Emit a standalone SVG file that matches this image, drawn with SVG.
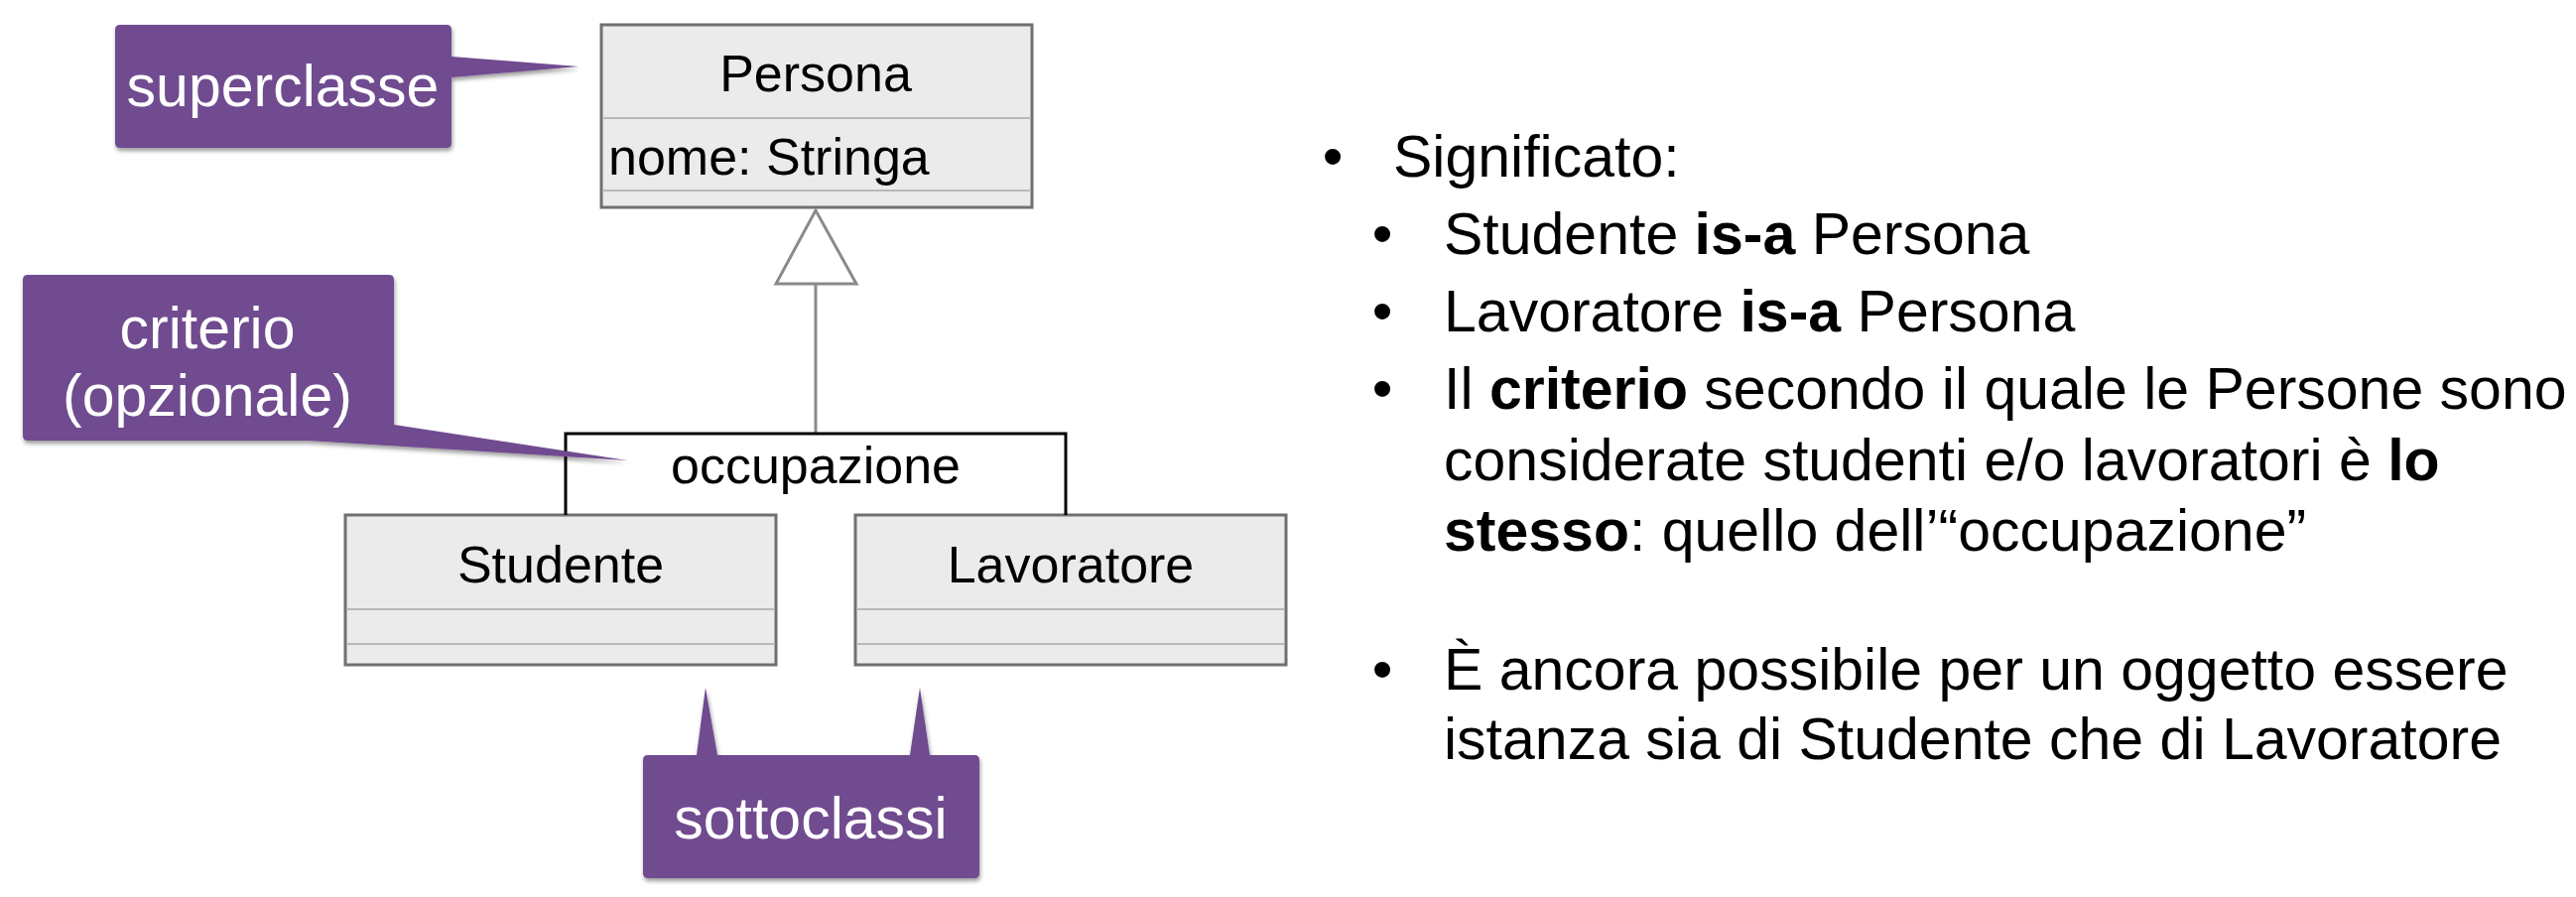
<svg xmlns="http://www.w3.org/2000/svg" width="2596" height="904" viewBox="0 0 2596 904">
<defs>
<filter id="shadow" x="-10%" y="-10%" width="130%" height="140%">
<feDropShadow dx="1" dy="3" stdDeviation="2" flood-color="#000" flood-opacity="0.4"/>
</filter>
</defs>
<style>
.box{fill:#ebebeb;stroke:#707070;stroke-width:3}
.div{stroke:#b8b8b8;stroke-width:2}
.uml{font-family:"Liberation Sans",Arial,sans-serif;font-size:52px;fill:#000}
.callout{fill:#704b90;filter:url(#shadow)}
.ctext{font-family:"Liberation Sans",Arial,sans-serif;font-size:59px;fill:#fff;text-anchor:middle}
.gen{stroke:#8a8a8a;stroke-width:3;fill:none}
.note{font-family:"Liberation Sans",Arial,sans-serif;font-size:59px;fill:#000}
.b{font-weight:bold}
</style>
<rect width="2596" height="904" fill="#fff"/>

<g id="persona">
<rect class="box" x="606" y="25" width="434" height="184"/>
<line class="div" x1="607" y1="119" x2="1039" y2="119"/>
<line class="div" x1="607" y1="192" x2="1039" y2="192"/>
<text class="uml" x="822" y="92" text-anchor="middle">Persona</text>
<text class="uml" x="613" y="176">nome: Stringa</text>
</g>

<g id="studente">
<rect class="box" x="348" y="519" width="434" height="151"/>
<line class="div" x1="349" y1="614" x2="781" y2="614"/>
<line class="div" x1="349" y1="649" x2="781" y2="649"/>
<text class="uml" x="565" y="587" text-anchor="middle">Studente</text>
</g>

<g id="lavoratore">
<rect class="box" x="862" y="519" width="434" height="151"/>
<line class="div" x1="863" y1="614" x2="1295" y2="614"/>
<line class="div" x1="863" y1="649" x2="1295" y2="649"/>
<text class="uml" x="1079" y="587" text-anchor="middle">Lavoratore</text>
</g>

<g id="connectors">
<line class="gen" x1="822" y1="286" x2="822" y2="437"/>
<polygon class="gen" points="822,212 782,286 863,286" style="fill:#fff"/>
<path d="M570,519 V437 H1074 V519" fill="none" stroke="#000" stroke-width="3"/>
<text class="uml" x="822" y="487" text-anchor="middle">occupazione</text>
</g>

<g id="callout-superclasse">
<path class="callout" d="M121,25 H450 Q455,25 455,30 V57 L583,67 L455,78 V144 Q455,149 450,149 H121 Q116,149 116,144 V30 Q116,25 121,25 Z"/>
<text class="ctext" x="285" y="107">superclasse</text>
</g>

<g id="callout-criterio">
<path class="callout" d="M28,277 H392 Q397,277 397,282 V428 L632,464 L310,444 H28 Q23,444 23,439 V282 Q23,277 28,277 Z"/>
<text class="ctext" x="209" y="351">criterio</text>
<text class="ctext" x="209" y="419">(opzionale)</text>
</g>

<g id="callout-sottoclassi">
<path class="callout" d="M653,761 H702 L711,693 L723,761 H917 L927,693 L937,761 H982 Q987,761 987,766 V880 Q987,885 982,885 H653 Q648,885 648,880 V766 Q648,761 653,761 Z"/>
<text class="ctext" x="817" y="845">sottoclassi</text>
</g>

<g id="notes">
<text class="note" x="1343" y="178" text-anchor="middle">•</text>
<text class="note" x="1404" y="178">Significato:</text>
<text class="note" x="1393" y="256" text-anchor="middle">•</text>
<text class="note" x="1455" y="256">Studente <tspan class="b">is-a</tspan> Persona</text>
<text class="note" x="1393" y="334" text-anchor="middle">•</text>
<text class="note" x="1455" y="334">Lavoratore <tspan class="b">is-a</tspan> Persona</text>
<text class="note" x="1393" y="412" text-anchor="middle">•</text>
<text class="note" x="1455" y="412">Il <tspan class="b">criterio</tspan> secondo il quale le Persone sono</text>
<text class="note" x="1455" y="484">considerate studenti e/o lavoratori è <tspan class="b">lo</tspan></text>
<text class="note" x="1455" y="555"><tspan class="b">stesso</tspan>: quello dell’“occupazione”</text>
<text class="note" x="1393" y="695" text-anchor="middle">•</text>
<text class="note" x="1455" y="695">È ancora possibile per un oggetto essere</text>
<text class="note" x="1455" y="765">istanza sia di Studente che di Lavoratore</text>
</g>
</svg>
